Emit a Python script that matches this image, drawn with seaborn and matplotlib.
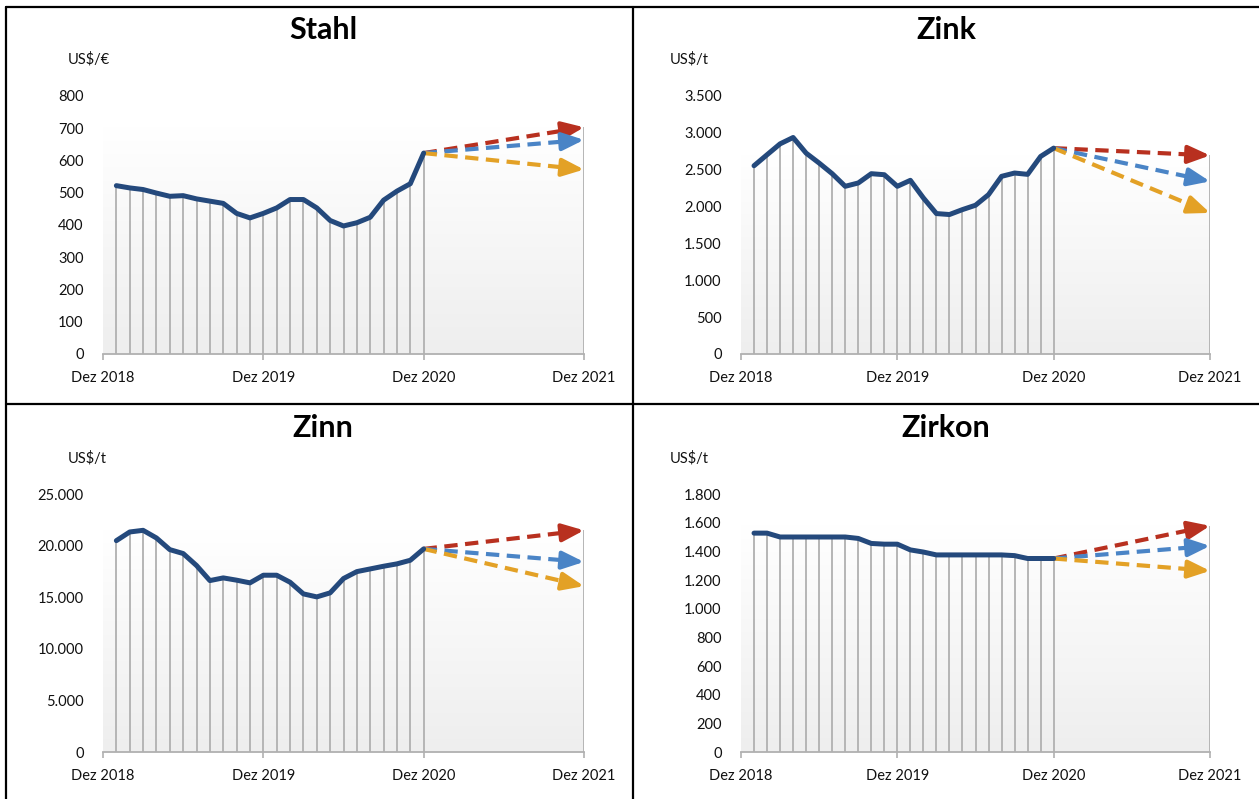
import numpy as np
import pandas as pd
import matplotlib
matplotlib.use("Agg")
import matplotlib.pyplot as plt
from matplotlib.colors import LinearSegmentedColormap
from matplotlib.ticker import FuncFormatter
import seaborn as sns

# ==============================
# Data (monthly, Jan 2019 .. Dez 2020) + forecast to Dez 2021
# ==============================
monate = list(range(1, 25))
x_ticks = [0, 12, 24, 36]
x_labels = ["Dez 2018", "Dez 2019", "Dez 2020", "Dez 2021"]

stahl = [522, 515, 510, 499, 489, 491, 481, 474, 467, 436, 422, 436,
         453, 479, 479, 453, 414, 397, 407, 424, 477, 505, 528, 623]
zink = [2554, 2703, 2851, 2937, 2725, 2590, 2446, 2275, 2320, 2446, 2432, 2275,
        2356, 2117, 1905, 1892, 1959, 2018, 2162, 2410, 2455, 2437, 2680, 2793]
zinn = [20480, 21320, 21480, 20740, 19610, 19230, 18070, 16610, 16870, 16650, 16390, 17130,
        17130, 16450, 15320, 15030, 15420, 16810, 17480, 17740, 18000, 18230, 18580, 19680]
zirkon = [1527, 1527, 1500, 1500, 1500, 1500, 1500, 1500, 1490, 1455, 1450, 1450,
          1410, 1395, 1375, 1375, 1375, 1375, 1375, 1375, 1370, 1350, 1350, 1350]

# forecast end values at Dez 2021: [rot, blau, gelb]
stahl_prognose = [703, 664, 572]
zink_prognose = [2694, 2342, 1914]
zinn_prognose = [21480, 18420, 16070]
zirkon_prognose = [1578, 1438, 1264]

panels = [
    ("Stahl", "US$/€", stahl, stahl_prognose, 800, 100),
    ("Zink", "US$/t", zink, zink_prognose, 3500, 500),
    ("Zinn", "US$/t", zinn, zinn_prognose, 25000, 5000),
    ("Zirkon", "US$/t", zirkon, zirkon_prognose, 1800, 200),
]

# ==============================
# Style
# ==============================
sns.set_theme(style="white")
plt.rcParams['font.family'] = ['Lato', 'DejaVu Sans']

W, H = 1259, 799
line_blue = "#24497c"
drop_grey = "#b0b0b0"
arrow_colors = ["#b8301f", "#4a84c6", "#e3a126"]
grad = LinearSegmentedColormap.from_list("bg", ["#eeeeee", "#ffffff"])

fig = plt.figure(figsize=(W / 100, H / 100), dpi=100)

# axes boxes in pixels: (left, right, y of zero, y of max)
boxes = [
    (103, 584, 354, 96),
    (741, 1210, 354, 96),
    (103, 584, 752, 494),
    (741, 1210, 752, 494),
]
title_pos = [(323, 30), (946, 30), (323, 428), (946, 428)]
unit_pos = [(68, 59), (670, 59), (68, 458), (670, 458)]


def de_fmt(v, pos):
    return f"{int(round(v)):,}".replace(",", ".")


for (name, unit, werte, prog, ymax, step), (l, r, y0, y1), (tx, ty), (ux, uy) in zip(panels, boxes, title_pos, unit_pos):
    ax = fig.add_axes([l / W, 1 - y0 / H, (r - l) / W, (y0 - y1) / H])
    ax.set_xlim(0, 36)
    ax.set_ylim(0, ymax)

    df = pd.DataFrame({"Monat": monate, "Preis": werte})
    top = prog[0]

    # gradient plot area
    g = np.linspace(0, 1, 256).reshape(-1, 1)
    ax.imshow(g, extent=[0, 36, 0, top], origin="lower", aspect="auto", cmap=grad, zorder=0)

    # drop lines
    ax.vlines(df["Monat"], 0, df["Preis"], color=drop_grey, lw=1.3, zorder=1)
    ax.vlines(36, 0, top, color=drop_grey, lw=1.3, zorder=1)

    # forecast arrows
    start = werte[-1]
    for end, c in zip(prog, arrow_colors):
        xa = 35.0
        ya = start + (end - start) * (xa - 24) / 12
        ax.plot([24, xa], [start, ya], color=c, lw=3, ls=(0, (3.2, 1.8)), zorder=2,
                solid_capstyle="butt", dash_capstyle="butt")
        ax.annotate("", xy=(36, end), xytext=(xa - 0.1, ya),
                    arrowprops=dict(arrowstyle="-|>,head_length=1.1,head_width=0.45",
                                    color=c, lw=3, shrinkA=0, shrinkB=0), zorder=3)

    sns.lineplot(data=df, x="Monat", y="Preis", ax=ax, color=line_blue, lw=3.6, zorder=4)

    # axes cosmetics
    for s in ["top", "right", "left"]:
        ax.spines[s].set_visible(False)
    ax.spines["bottom"].set_color(drop_grey)
    ax.spines["bottom"].set_linewidth(1.3)
    ax.set_xticks(x_ticks)
    ax.set_xticklabels(x_labels, fontsize=10.5, color="#111111")
    ax.set_yticks(np.arange(0, ymax + 1, step))
    ax.yaxis.set_major_formatter(FuncFormatter(de_fmt))
    ax.tick_params(axis="x", length=4, width=1.2, color=drop_grey, pad=8, bottom=True)
    ax.tick_params(axis="y", length=0, pad=14, labelsize=10.5, labelcolor="#111111")
    ax.set_xlabel("")
    ax.set_ylabel("")

    fig.text(tx / W, 1 - ty / H, name, ha="center", va="center", fontsize=22,
             fontweight="bold", color="black")
    fig.text(ux / W, 1 - uy / H, unit, ha="left", va="center", fontsize=10.5, color="#111111")

# frame lines between panels
frame = dict(color="black", lw=1.6, transform=fig.transFigure)
fig.add_artist(plt.Line2D([6 / W, 1], [1 - 7 / H, 1 - 7 / H], **frame))
fig.add_artist(plt.Line2D([6 / W, 6 / W], [0, 1 - 7 / H], **frame))
fig.add_artist(plt.Line2D([633 / W, 633 / W], [0, 1 - 7 / H], **frame))
fig.add_artist(plt.Line2D([6 / W, 1], [1 - 404 / H, 1 - 404 / H], **frame))

fig.savefig("out.png", dpi=100)
